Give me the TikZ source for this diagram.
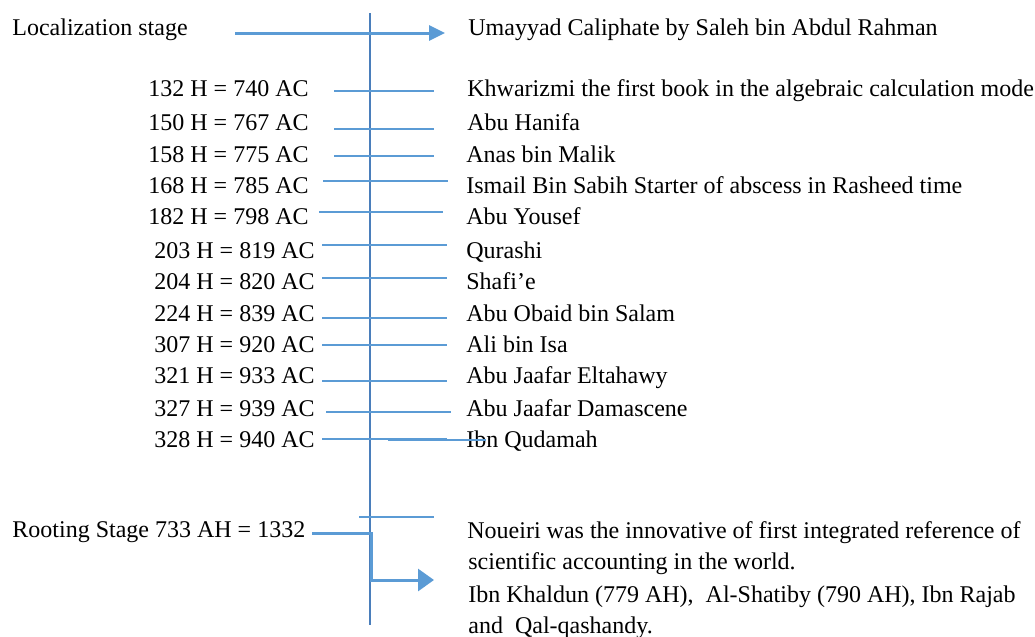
\documentclass[tikz,border=0pt]{standalone}
\usepackage{fontspec}
\setmainfont{Liberation Serif}
\usetikzlibrary{arrows.meta}
\definecolor{lblue}{HTML}{5B9BD5}
\definecolor{dblue}{HTML}{4A7EBB}
\begin{document}
\begin{tikzpicture}[x=0.5pt,y=-0.5pt,
  txt/.style={inner sep=0pt,font=\fontsize{12}{14}\selectfont},
  lt/.style={txt,anchor=base east},
  rt/.style={txt,anchor=base west},
  rowline/.style={draw=lblue,line width=0.75pt},
  axis/.style={draw=dblue,line width=1pt},
  bigarrow/.style={draw=lblue,line width=1.5pt,-{Triangle[length=8pt,width=7.5pt]}},
  bentarrow/.style={draw=lblue,line width=1.5pt,-{Triangle[length=8pt,width=11pt]}}]
\useasboundingbox (0,0) rectangle (1035,637);
% axis
\coordinate (vtop) at (370,13);
\coordinate (vbot) at (370,625);
\draw[axis] (vtop) -- (vbot);
% top
\node[txt,anchor=base west] (loc) at (12,35) {Localization stage};
\node[rt] (uma) at (468,35) {Umayyad Caliphate by Saleh bin Abdul Rahman};
\coordinate (a1) at (235,33);
\coordinate (a2) at (445,33);
\draw[bigarrow] (a1) -- (a2);
% rows: left label, right label
\node[lt] (l1) at (309,97) {132 H = 740 AC};
\node[lt] (l2) at (309,130) {150 H = 767 AC};
\node[lt] (l3) at (309,162) {158 H = 775 AC};
\node[lt] (l4) at (309,193) {168 H = 785 AC};
\node[lt] (l5) at (309,224) {182 H = 798 AC};
\node[lt] (l6) at (315,258) {203 H = 819 AC};
\node[lt] (l7) at (315,289) {204 H = 820 AC};
\node[lt] (l8) at (315,321) {224 H = 839 AC};
\node[lt] (l9) at (315,352) {307 H = 920 AC};
\node[lt] (l10) at (315,383) {321 H = 933 AC};
\node[lt] (l11) at (315,416) {327 H = 939 AC};
\node[lt] (l12) at (315,447) {328 H = 940 AC};
\node[rt] (r1) at (467,97) {Khwarizmi the first book in the algebraic calculation mode};
\node[rt] (r2) at (467,130) {Abu Hanifa};
\node[rt] (r3) at (466,162) {Anas bin Malik};
\node[rt] (r4) at (466,193) {Ismail Bin Sabih Starter of abscess in Rasheed time};
\node[rt] (r5) at (466,224) {Abu Yousef};
\node[rt] (r6) at (466,258) {Qurashi};
\node[rt] (r7) at (466,289) {Shafi’e};
\node[rt] (r8) at (466,321) {Abu Obaid bin Salam};
\node[rt] (r9) at (466,352) {Ali bin Isa};
\node[rt] (r10) at (466,383) {Abu Jaafar Eltahawy};
\node[rt] (r11) at (466,416) {Abu Jaafar Damascene};
\node[rt] (r12) at (466,447) {Ibn Qudamah};
% row lines
\foreach \n/\xa/\xb/\y in {1/334/434/91,2/334/434/129,3/334/434/156,4/323/448/181,
  5/319/443/212,6/322/447/245,7/322/447/278,8/322/447/318,9/322/447/345,
  10/322/447/381,11/326/451/412,12/322/447/439}{
  \coordinate (s\n) at (\xa,\y);
  \coordinate (e\n) at (\xb,\y);
  \draw[rowline] (s\n) -- (e\n);
}
\coordinate (q1) at (388,440);
\coordinate (q2) at (486,440);
\draw[rowline] (q1) -- (q2);
\coordinate (x1) at (359,517);
\coordinate (x2) at (434,517);
\draw[rowline] (x1) -- (x2);
% rooting stage
\node[txt,anchor=base west] (root) at (12,537) {Rooting Stage 733 AH = 1332};
\coordinate (b1) at (312,533);
\coordinate (b2) at (371,533);
\coordinate (b3) at (371,580);
\coordinate (b4) at (434,580);
\draw[bentarrow] (b1) -- (b2) -- (b3) -- (b4);
\node[rt] (n1) at (467,538) {Noueiri was the innovative of first integrated reference of};
\node[rt] (n2) at (468,569) {scientific accounting in the world.};
\node[rt] (n3) at (468,602) {Ibn Khaldun (779 AH),\ \ Al-Shatiby (790 AH), Ibn Rajab};
\node[rt] (n4) at (468,633) {and\ \ Qal-qashandy.};
\end{tikzpicture}
\end{document}
